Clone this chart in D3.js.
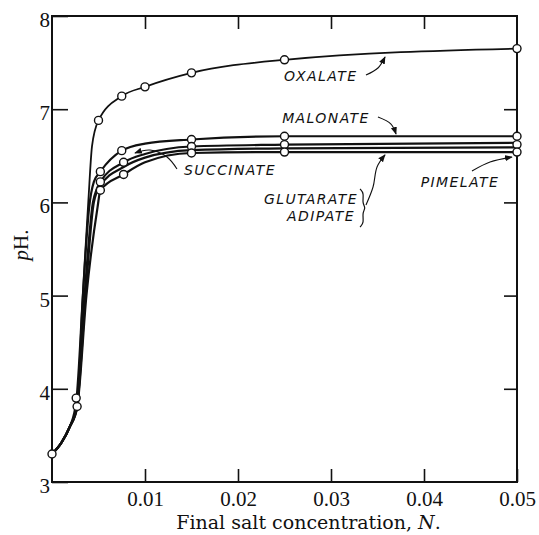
<!DOCTYPE html>
<html>
<head>
<meta charset="utf-8">
<script src="https://cdn.jsdelivr.net/npm/d3@7"></script>
<style>
  body { margin: 0; background: #fff; }
  .tick-label { font-family: "Liberation Serif", serif; font-size: 21px; fill: #111; }
  .title { font-family: "DejaVu Serif", serif; font-size: 19px; fill: #111; }
  .note { font-family: "DejaVu Sans", sans-serif; font-style: italic; font-size: 14px; letter-spacing: 1.4px; fill: #111; }
</style>
</head>
<body>
<script>
// set the dimensions and margins of the graph
var margin = {top: 16, right: 22, bottom: 53, left: 52},
    width = 539 - margin.left - margin.right,
    height = 535 - margin.top - margin.bottom;

var xTicks = [0.01, 0.02, 0.03, 0.04, 0.05];
var yTicks = [3, 4, 5, 6, 7, 8];

// curves (x = normality, y = pH)
var oxalateCurve = [[0, 3.3], [0.001, 3.42], [0.0019, 3.59], [0.0026, 3.88], [0.0033, 5.0], [0.0039, 6.0],
    [0.0043, 6.6], [0.005, 6.88], [0.0075, 7.14], [0.01, 7.24], [0.015, 7.39], [0.025, 7.53], [0.05, 7.65]];
var oxalatePoints = [[0, 3.3], [0.0026, 3.9], [0.005, 6.88], [0.0075, 7.14], [0.01, 7.24], [0.015, 7.39], [0.025, 7.53], [0.05, 7.65]];

var malonateCurve = [[0, 3.3], [0.001, 3.42], [0.0019, 3.59], [0.0027, 3.8], [0.0033, 4.95], [0.004, 5.95],
    [0.0045, 6.22], [0.0052, 6.33], [0.0075, 6.555], [0.01, 6.63], [0.015, 6.675], [0.025, 6.71], [0.05, 6.71]];
var malonatePoints = [[0.0027, 3.81], [0.0052, 6.33], [0.0075, 6.555], [0.015, 6.675], [0.025, 6.71], [0.05, 6.71]];

var succinateCurve = [[0, 3.3], [0.001, 3.42], [0.0019, 3.59], [0.0027, 3.82], [0.0035, 5.0], [0.0044, 6.0],
    [0.0048, 6.14], [0.0052, 6.22], [0.0077, 6.43], [0.01, 6.52], [0.015, 6.6], [0.025, 6.62], [0.05, 6.64]];
var succinatePoints = [[0.0052, 6.22], [0.0077, 6.43], [0.015, 6.6], [0.025, 6.62], [0.05, 6.62]];

var glutarateCurve = [[0, 3.3], [0.001, 3.42], [0.0019, 3.59], [0.0027, 3.82], [0.0036, 5.0], [0.0045, 6.0],
    [0.0052, 6.18], [0.0077, 6.38], [0.01, 6.48], [0.015, 6.56], [0.025, 6.58], [0.05, 6.59]];
var glutaratePoints = [];

var pimelateCurve = [[0, 3.3], [0.001, 3.42], [0.0019, 3.59], [0.0027, 3.8], [0.0037, 5.0], [0.0049, 5.95],
    [0.0052, 6.13], [0.0077, 6.3], [0.01, 6.43], [0.015, 6.53], [0.025, 6.54], [0.05, 6.54]];
var pimelatePoints = [[0.0052, 6.13], [0.0077, 6.3], [0.015, 6.53], [0.025, 6.54], [0.05, 6.54]];

// labels and their arrows, in data units
var labels = [
    {text: "OXALATE", at: [0.0289, 7.356], anchor: "middle",
     arrow: [[0.03376, 7.367], [0.03505, 7.442], [0.03581, 7.56]]},
    {text: "MALONATE", at: [0.02946, 6.906], anchor: "middle",
     arrow: [[0.03505, 6.916], [0.03645, 6.841], [0.03699, 6.734]]},
    {text: "SUCCINATE", at: [0.01914, 6.348], anchor: "middle",
     arrow: [[0.01344, 6.358], [0.01237, 6.487], [0.01054, 6.562], [0.00892, 6.53]]},
    {text: "GLUTARATE", at: [0.0329, 6.036], anchor: "end",
     arrow: [[0.03376, 5.972], [0.03452, 6.165], [0.03495, 6.38], [0.03581, 6.509]]},
    {text: "ADIPATE", at: [0.03258, 5.854], anchor: "end", arrow: null},
    {text: "PIMELATE", at: [0.04387, 6.219], anchor: "middle",
     arrow: [[0.04516, 6.337], [0.0471, 6.433], [0.04946, 6.487]]}
];
var brace = [[0.03312, 6.144], [0.03376, 5.94], [0.03312, 5.736]];

// set the ranges
var x = d3.scaleLinear().domain([0, 0.05]).range([0, width]);
var y = d3.scaleLinear().domain([3, 8]).range([height, 0]);

var svg = d3.select("body").append("svg")
    .attr("width", 539)
    .attr("height", 535)
    .append("g")
    .attr("transform", "translate(" + margin.left + "," + margin.top + ")");

svg.append("defs").append("marker")
    .attr("id", "head")
    .attr("viewBox", "0 0 10 10")
    .attr("refX", 9).attr("refY", 5)
    .attr("markerWidth", 7).attr("markerHeight", 7)
    .attr("orient", "auto")
    .append("path")
    .attr("d", "M0,1L10,5L0,9Z")
    .attr("fill", "#111");

var curve = d3.line()
    .x(function(d) { return x(d[0]); })
    .y(function(d) { return y(d[1]); })
    .curve(d3.curveMonotoneX);

var smooth = d3.line()
    .x(function(d) { return x(d[0]); })
    .y(function(d) { return y(d[1]); })
    .curve(d3.curveCatmullRom.alpha(0.5));

// frame
svg.append("rect")
    .attr("width", width).attr("height", height)
    .attr("fill", "none").attr("stroke", "#111").attr("stroke-width", 2);

// axes, ticks pointing inward
var xb = svg.append("g").attr("transform", "translate(0," + height + ")")
    .call(d3.axisBottom(x).tickValues(xTicks).tickSize(-13).tickPadding(9).tickFormat(d3.format(".2f")));
svg.append("g").call(d3.axisTop(x).tickValues(xTicks.slice(0, 4)).tickSize(-13).tickFormat(""));
var yl = svg.append("g")
    .call(d3.axisLeft(y).tickValues(yTicks).tickSize(-16).tickPadding(2).tickFormat(d3.format("d")));
svg.append("g").attr("transform", "translate(" + width + ",0)")
    .call(d3.axisRight(y).tickValues([4, 5, 6, 7]).tickSize(-13).tickFormat(""));

svg.selectAll(".domain").remove();
svg.selectAll(".tick line").attr("stroke", "#111").attr("stroke-width", 1.6);
svg.selectAll(".tick text").attr("class", "tick-label");
yl.selectAll(".tick text").attr("dy", "0.5em");

// axis titles
svg.append("text")
    .attr("class", "title")
    .attr("x", width / 2 + 24).attr("y", height + 47)
    .attr("text-anchor", "middle")
    .html('Final salt concentration, <tspan font-style="italic">N</tspan>.');
svg.append("text")
    .attr("class", "tick-label")
    .attr("transform", "translate(-24," + (height / 2 - 4) + ") rotate(-90)")
    .attr("text-anchor", "middle")
    .html('<tspan font-style="italic">p</tspan>H.');

// curves
[oxalateCurve, malonateCurve, succinateCurve, glutarateCurve, pimelateCurve].forEach(function(c, i) {
    svg.append("path")
        .datum(c)
        .attr("fill", "none")
        .attr("stroke", "#111")
        .attr("stroke-width", i == 0 ? 1.8 : 2.2)
        .attr("d", curve);
});

// points
[oxalatePoints, malonatePoints, succinatePoints, glutaratePoints, pimelatePoints].forEach(function(p) {
    svg.selectAll(null)
        .data(p)
        .enter().append("circle")
        .attr("cx", function(d) { return x(d[0]); })
        .attr("cy", function(d) { return y(d[1]); })
        .attr("r", 4)
        .attr("fill", "#fff")
        .attr("stroke", "#111")
        .attr("stroke-width", 1.4);
});

// labels
labels.forEach(function(l) {
    svg.append("text")
        .attr("class", "note")
        .attr("x", x(l.at[0])).attr("y", y(l.at[1]))
        .attr("dy", "0.36em")
        .attr("text-anchor", l.anchor)
        .text(l.text);
    if (l.arrow) {
        svg.append("path")
            .datum(l.arrow)
            .attr("fill", "none")
            .attr("stroke", "#111")
            .attr("stroke-width", 1.1)
            .attr("marker-end", "url(#head)")
            .attr("d", smooth);
    }
});

svg.append("path")
    .datum(brace)
    .attr("fill", "none").attr("stroke", "#111").attr("stroke-width", 1.2)
    .attr("d", d3.line().x(function(d) { return x(d[0]); }).y(function(d) { return y(d[1]); }).curve(d3.curveBasis)
        ([brace[0], [0.03355, 6.1], [0.03335, 5.99], brace[1], [0.03335, 5.89], [0.03355, 5.78], brace[2]]));
</script>
</body>
</html>
